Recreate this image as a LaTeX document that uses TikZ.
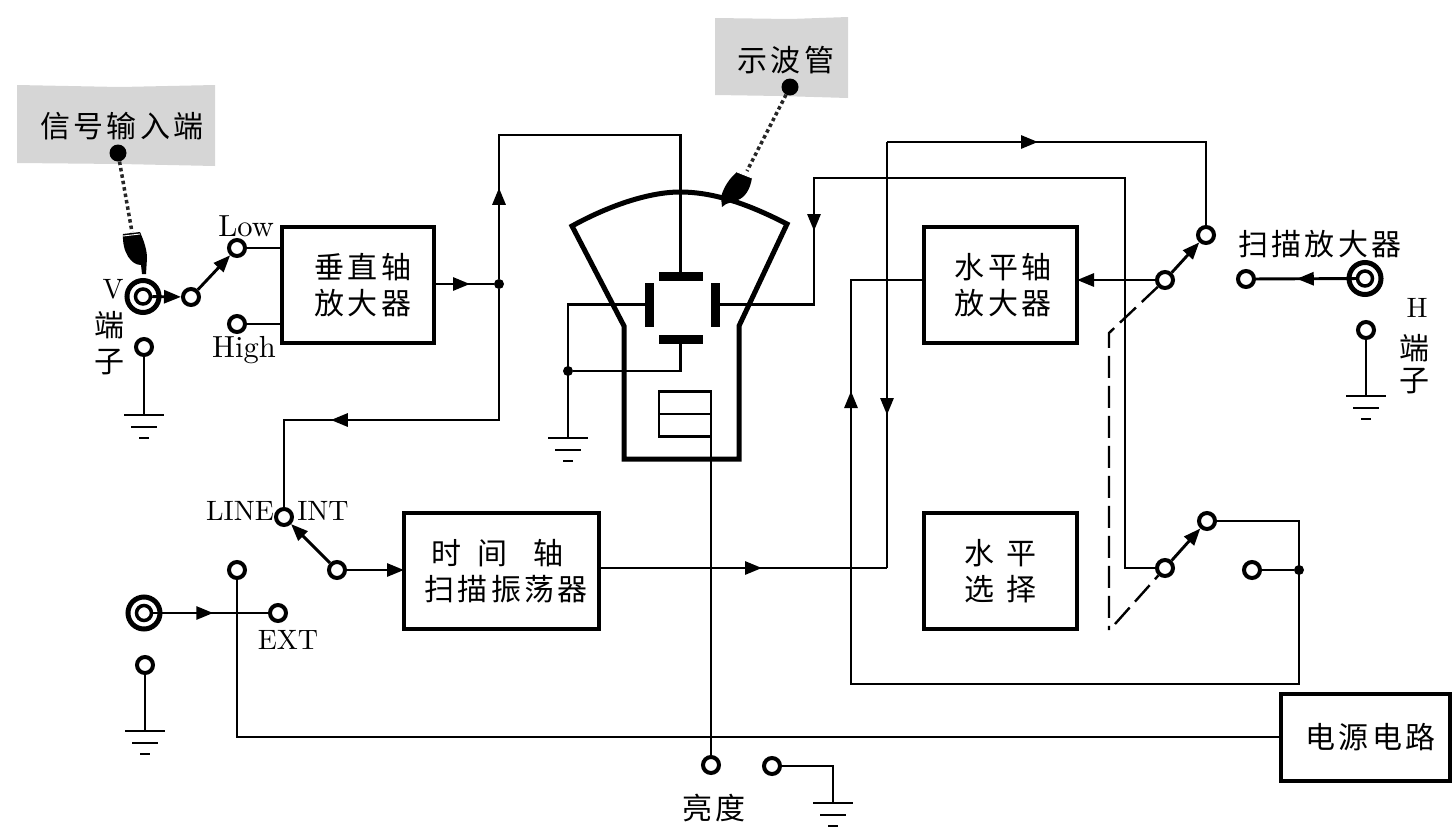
\documentclass[tikz,border=0pt]{standalone}
\usepackage{fontspec}
\usetikzlibrary{arrows.meta,decorations.markings}
\newfontfamily\cjk[LetterSpace=11]{Noto Sans CJK SC}
\definecolor{tagfill}{gray}{0.84}
\newcommand{\pad}[1]{\mbox{}\hspace{#1}}
\tikzset{
  x=1pt,y=-1pt,
  wire/.style={line width=2.9pt,draw=black},
  tipend/.style={-{Triangle[length=17pt,width=13pt]}},
  arrowat/.style={postaction={decorate},decoration={markings,mark=at position #1 with {\arrow{Triangle[length=17pt,width=13pt]}}}},
  term/.style={circle,draw=black,line width=4pt,fill=white,minimum size=16pt,inner sep=0pt,outer sep=2pt},
  jack/.style={circle,draw=black,line width=5pt,fill=white,minimum size=32pt,inner sep=0pt,outer sep=2.5pt},
  jackcore/.style={circle,draw=black,line width=3.5pt,fill=white,minimum size=15pt,inner sep=0pt,outer sep=1.75pt},
  blackdot/.style={circle,fill=black,minimum size=10pt,inner sep=0pt},
  pindot/.style={circle,fill=black,minimum size=17pt,inner sep=0pt},
  blockbox/.style={rectangle,draw=black,line width=4pt,fill=white,outer sep=0pt,inner sep=0pt,align=center,font=\cjk\fontsize{30}{36}\selectfont},
  plate/.style={rectangle,fill=black,inner sep=0pt,outer sep=0pt},
  cn/.style={inner sep=0pt,font=\cjk\fontsize{30}{36}\selectfont},
  ln/.style={inner sep=0pt,font=\fontsize{10}{12}\selectfont,scale=2.8},
  lnwide/.style={inner sep=0pt,font=\fontsize{10}{12}\selectfont,scale=3.05},
  tagline/.style={line width=3.5pt,dash pattern=on 3.5pt off 3pt,draw=black!85},
  gang/.style={line width=2.4pt,dash pattern=on 22pt off 8pt},
  groundsym/.pic={
    \draw[line width=1.8pt] (-20,0) -- (20,0);
    \draw[line width=2.6pt] (-13,12) -- (13,12);
    \draw[line width=1.4pt] (-5,23) -- (5,23);
  }
}
\begin{document}
\begin{tikzpicture}
\useasboundingbox (0,0) rectangle (1452,828);

% paper tags with their captions
\fill[tagfill] (17,85) -- (120,87) -- (215,85) -- (215,166) -- (120,164) -- (17,163) -- cycle;
\fill[tagfill] (715,18) -- (790,19) -- (848,17) -- (848,98) -- (780,96) -- (715,95) -- cycle;
\node[cn] (tagA) at (122,126) {信号输入端};
\node[cn] (tagB) at (786,60) {示波管};
\node[pindot] (pinA) at (118,153) {};
\node[pindot] (pinB) at (790,87) {};
\coordinate (handA) at (132,232);
\coordinate (handB) at (747,171);
\draw[tagline] (pinA) -- (handA);
\draw[tagline] (pinB) -- (handB);

% pointing hands
\fill (123,234) -- (140,232) .. controls (144,241) and (147,250) .. (147,258) -- (146,274) -- (142,274) -- (141,265)
  .. controls (131,265) and (122,252) .. (123,234) -- cycle;
\draw[white,line width=0.9pt] (123,236) -- (140,234);
\fill (737,172) -- (752,178) .. controls (750,190) and (745,197) .. (738,200) -- (726,204) -- (722,207) -- (721,197)
  .. controls (724,186) and (730,178) .. (737,172) -- cycle;
\draw[white,line width=0.9pt] (737,172) -- (752,178);

% cathode ray tube outline
\draw[line width=5pt,line join=miter]
  (572,226) .. controls (610,205) and (650,192) .. (680,192) .. controls (715,192) and (750,205) .. (787,224)
  -- (739,326) -- (739,459) -- (624,459) -- (624,326) -- cycle;

% deflection plates and heater
\node[plate,minimum width=44pt,minimum height=9pt] (ptop) at (680.5,276.5) {};
\node[plate,minimum width=44pt,minimum height=9pt] (pbot) at (680.5,339) {};
\node[plate,minimum width=9pt,minimum height=44pt] (pleft) at (649.5,304.5) {};
\node[plate,minimum width=9pt,minimum height=44pt] (pright) at (715.5,304.5) {};
\node[rectangle,draw=black,line width=2.9pt,minimum width=52pt,minimum height=45pt,inner sep=0pt,outer sep=0pt] (heater) at (685,414) {};

% function blocks
\node[blockbox,minimum width=152pt,minimum height=116pt] (vamp) at (358,285) {\pad{10pt}垂直轴\\\pad{10pt}放大器};
\node[blockbox,minimum width=153pt,minimum height=116pt] (hamp) at (1000.5,285) {\pad{5pt}水平轴\\\pad{5pt}放大器};
\node[blockbox,minimum width=195pt,minimum height=116pt] (sweep) at (501.5,571) {时\hspace{16pt}间\hspace{26pt}轴\hspace{8pt}\mbox{}\\\pad{9pt}扫描振荡器};
\node[blockbox,minimum width=153pt,minimum height=116pt] (hsel) at (1000.5,571) {水\hspace{13pt}平\\选\hspace{13pt}择};
\node[blockbox,minimum width=169pt,minimum height=87pt] (psu) at (1365.5,737) {\pad{10pt}电源电路};

% input jacks
\node[jack] (vjack) at (143,296.5) {};
\node[jackcore] (vcore) at (vjack.center) {};
\node[jack] (hjack) at (1365,278.5) {};
\node[jackcore] (hcore) at (hjack.center) {};
\node[jack] (extjack) at (144,613) {};
\node[jackcore] (extcore) at (extjack.center) {};

% terminals
\node[term] (vsw) at (191,297) {};
\node[term] (low) at (237,248) {};
\node[term] (high) at (237,324) {};
\node[term] (vgnd) at (144,347) {};
\node[term] (line) at (284,517) {};
\node[term] (trig) at (337,570) {};
\node[term] (plug) at (237,570) {};
\node[term] (ext) at (278,613) {};
\node[term] (extgnd) at (145,665) {};
\node[term] (bright) at (711,765) {};
\node[term] (brgnd) at (772,766) {};
\node[term] (hswA) at (1165,280) {};
\node[term] (hswAup) at (1206,235) {};
\node[term] (hswB) at (1165,568) {};
\node[term] (hswBup) at (1207,521) {};
\node[term] (hswBoff) at (1252,570) {};
\node[term] (hin) at (1246,279) {};
\node[term] (hgnd) at (1366,330) {};

% junctions
\node[blackdot] (jv) at (499,284) {};
\node[blackdot] (jg) at (568,371) {};
\node[blackdot] (jp) at (1299,570) {};
\coordinate (cVtop) at (499,135);
\coordinate (cVlow) at (499,420);
\coordinate (cLeft) at (568,304.5);
\coordinate (cR) at (814,304.5);
\coordinate (cRtop) at (814,178);
\coordinate (cRr) at (1125,178);
\coordinate (cSw) at (887,568);
\coordinate (cTop) at (887,142);
\coordinate (cA) at (851,280);
\coordinate (cB) at (851,684);
\coordinate (cC) at (1299,684);
\coordinate (cD) at (1299,519);
\coordinate (cG) at (1109,333);
\coordinate (cH) at (1109,630);
\coordinate (cI) at (1115,624);
\coordinate (cJ) at (237,737);
\coordinate (cK) at (833,766);

% ground symbols
\coordinate (g1) at (144,415);
\coordinate (g2) at (568,438);
\coordinate (g3) at (145,731);
\coordinate (g4) at (833,803);
\coordinate (g5) at (1366,396);
\pic at (g1) {groundsym};
\pic at (g2) {groundsym};
\pic at (g3) {groundsym};
\pic at (g4) {groundsym};
\pic at (g5) {groundsym};

% vertical channel
\draw[wire,tipend] (vcore) -- (vsw);
\draw[wire,tipend] (vsw) -- (low);
\draw[wire] (low) -- (low -| vamp.west);
\draw[wire] (high) -- (high -| vamp.west);
\draw[wire] (vgnd) -- (g1);
\draw[wire,arrowat=36pt] (jv -| vamp.east) -- (jv);
\draw[wire,arrowat=91pt] (jv) -- (cVtop) -- (cVtop -| ptop) -- (ptop);
\draw[wire,arrowat=299pt] (jv) -- (cVlow) -| (line);

% plate returns
\draw[wire] (pleft) -- (cLeft) -- (g2);
\draw[wire] (pbot) |- (jg);
\draw[wire,arrowat=784pt] (hswB) -| (cRr) -- (cRtop) -- (cR) -- (pright);

% heater and brightness
\draw[wire] (heater.west) -- (heater.east);
\draw[wire] (heater.north east) -- (bright);
\draw[wire] (brgnd) -- (cK) -- (g4);

% sweep chain
\draw[wire,tipend] (trig) -- (line);
\draw[wire,tipend] (trig) -- (trig -| sweep.west);
\draw[wire,arrowat=163pt] (cSw -| sweep.east) -- (cSw);
\draw[wire] (cSw) -- (cTop);
\draw[wire,arrowat=273pt] (cTop) -- (cSw);
\draw[wire,arrowat=151pt] (cTop) -| (hswAup);

% horizontal channel
\draw[wire,tipend] (hswA) -- (hswA -| hamp.east);
\draw[wire,tipend] (hswA) -- (hswAup);
\draw[wire,tipend] (hswB) -- (hswBup);
\draw[wire,arrowat=986pt] (hswBup) -- (hswBup -| cD) -- (cC) -- (cB) -- (cA) -- (cA -| hamp.west);
\draw[wire] (hswBoff) -- (jp);
\draw[wire,arrowat=59pt] (hcore) -- (hin);
\draw[wire] (hgnd) -- (g5);
\draw[gang] (hswA) -- (cG) -- (cH);
\draw[gang] (cI) -- (hswB);

% external input and mains
\draw[wire,arrowat=60pt] (extcore) -- (ext);
\draw[wire] (extgnd) -- (g3);
\draw[wire] (plug) -- (cJ) -- (psu.west);

% labels
\node[lnwide] (tLow) at (246,226) {Low};
\node[lnwide] (tHigh) at (244,350) {High};
\node[ln] (tV) at (113,289) {V};
\node[cn] (tVa) at (109,325) {端};
\node[cn] (tVb) at (109,362) {子};
\node[ln] (tLine) at (240,511) {LINE};
\node[ln] (tInt) at (323,511) {INT};
\node[ln] (tExt) at (288,640) {EXT};
\node[cn] (tBr) at (714,808) {亮度};
\node[cn] (tScan) at (1320,244) {扫描放大器};
\node[ln] (tH) at (1417,308) {H};
\node[cn] (tHa) at (1414,348) {端};
\node[cn] (tHb) at (1414,381) {子};
\end{tikzpicture}
\end{document}
